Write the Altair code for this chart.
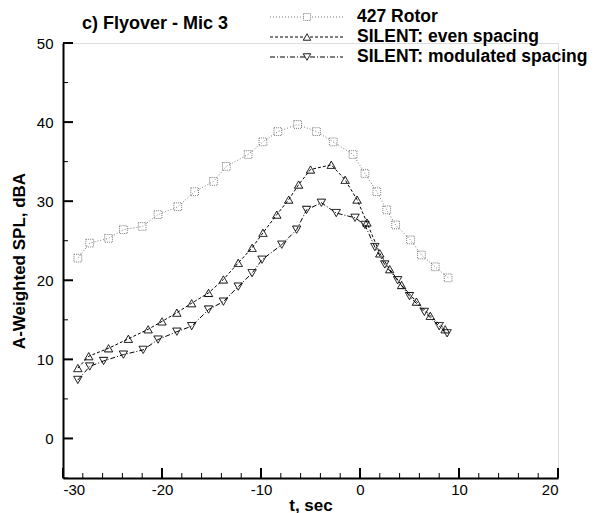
import altair as alt
import pandas as pd

# ---- data ----
rotor_t = [-28.5, -27.3, -25.4, -23.9, -22.0, -20.4, -18.4, -16.7, -14.8, -13.5, -11.3, -9.8, -8.3,
           -6.3, -4.4, -2.7, -0.7, 0.5, 1.7, 2.7, 3.6, 5.1, 6.2, 7.6, 8.9]
rotor_spl = [22.8, 24.7, 25.3, 26.4, 26.8, 28.3, 29.3, 31.2, 32.5, 34.4, 35.9, 37.5, 38.8,
             39.7, 38.8, 37.5, 35.9, 33.5, 31.2, 28.9, 27.0, 25.1, 23.2, 21.7, 20.3]

even_t = [-28.5, -27.4, -25.4, -23.4, -21.4, -20.0, -18.5, -17.0, -15.3, -13.8, -12.3, -10.9, -9.8,
          -8.4, -7.2, -6.2, -5.0, -2.9, -1.5, -0.3, 0.7, 2.0, 3.0, 4.2, 5.7, 7.1, 8.6]
even_spl = [8.9, 10.4, 11.4, 12.6, 13.8, 14.8, 15.9, 17.1, 18.4, 20.1, 22.2, 24.1, 26.0,
            28.3, 30.2, 32.1, 34.0, 34.6, 32.7, 30.2, 27.3, 23.4, 21.4, 19.4, 17.3, 15.5, 13.8]

mod_t = [-28.5, -27.3, -25.9, -23.9, -21.9, -20.4, -18.5, -17.0, -15.3, -13.8, -12.3, -10.9, -9.9,
         -7.9, -6.4, -5.4, -3.9, -2.4, -0.5, 0.5, 1.5, 2.5, 3.8, 5.0, 6.5, 8.0, 8.8]
mod_spl = [7.4, 9.1, 9.8, 10.6, 11.2, 12.5, 13.5, 14.2, 16.3, 17.3, 19.2, 20.9, 22.6,
           24.5, 26.4, 28.9, 29.8, 28.5, 27.9, 27.0, 24.2, 22.0, 20.0, 18.0, 16.0, 14.2, 13.3]

series_names = ["427 Rotor", "SILENT: even spacing", "SILENT: modulated spacing"]
chart_title = ["c) Flyover - Mic 3"]

x_labels = [-30, -20, -10, 0, 10, 20]
x_minor = [-28, -26, -24, -22, -18, -16, -14, -12, -8, -6, -4, -2, 2, 4, 6, 8, 12, 14, 16, 18]
y_labels = [0, 10, 20, 30, 40, 50]
y_minor = [-5, 5, 15, 25, 35, 45]

FONT = "Liberation Sans"
W, H = 495, 435

xs = alt.Scale(domain=[-30, 20], nice=False, zero=False)
ys = alt.Scale(domain=[-5, 50], nice=False, zero=False)
xaxis = alt.Axis(values=x_labels, ticks=False, grid=False, domainColor="black", domainWidth=2,
                 labelFont=FONT, labelFontSize=15, labelColor="black", labelPadding=4,
                 labelExpr="'' + datum.value",
                 title="t, sec", titleFont=FONT, titleFontSize=17, titleFontWeight="bold",
                 titleColor="black", titlePadding=0)
yaxis = alt.Axis(values=y_labels, ticks=False, grid=False, domainColor="black", domainWidth=2,
                 labelFont=FONT, labelFontSize=15, labelColor="black", labelPadding=10,
                 labelExpr="'' + datum.value",
                 title="A-Weighted SPL, dBA", titleFont=FONT, titleFontSize=17,
                 titleFontWeight="bold", titleColor="black", titlePadding=8)


def X(f):
    return alt.X(f"{f}:Q", scale=xs, axis=xaxis)


def Y(f):
    return alt.Y(f"{f}:Q", scale=ys, axis=yaxis)


styles = [
    dict(t=rotor_t, v=rotor_spl, color="#7a7a7a", dash=[1, 2], shape="square", pdash=[1, 1], size=60),
    dict(t=even_t, v=even_spl, color="black", dash=[3, 2], shape="triangle-up", pdash=[1, 0], size=70),
    dict(t=mod_t, v=mod_spl, color="black", dash=[5, 2, 1, 2], shape="triangle-down", pdash=[1, 0], size=70),
]

layers = []
legend_rows_y = [-26, -6, 14]
for name, st, ly in zip(series_names, styles, legend_rows_y):
    df = pd.DataFrame({"t": st["t"], "spl": st["v"], "series": name})
    layers.append(alt.Chart(df).mark_line(color=st["color"], strokeDash=st["dash"], strokeWidth=1)
                  .encode(x=X("t"), y=Y("spl")))
    layers.append(alt.Chart(df).mark_point(shape=st["shape"], filled=False, color=st["color"],
                                           strokeWidth=1, size=st["size"], strokeDash=st["pdash"], opacity=1)
                  .encode(x=X("t"), y=Y("spl")))
    ldf = pd.DataFrame({"series": [name]})
    layers.append(alt.Chart(ldf).mark_rule(color=st["color"], strokeDash=st["dash"], strokeWidth=1)
                  .encode(x=alt.value(207), x2=alt.value(280), y=alt.value(ly)))
    layers.append(alt.Chart(ldf).mark_point(shape=st["shape"], filled=False, color=st["color"],
                                            strokeWidth=1, size=st["size"] * 0.8, strokeDash=st["pdash"],
                                            opacity=1, fill="white")
                  .encode(x=alt.value(244), y=alt.value(ly)))
    layers.append(alt.Chart(ldf).mark_text(align="left", baseline="middle", font=FONT, fontSize=17.5,
                                           fontWeight="bold", color="black")
                  .encode(x=alt.value(294), y=alt.value(ly), text="series:N"))

# panel title
tdf = pd.DataFrame({"title": chart_title})
layers.append(alt.Chart(tdf).mark_text(align="left", baseline="middle", font=FONT, fontSize=18,
                                       fontWeight="bold", color="black")
              .encode(x=alt.value(19), y=alt.value(-19), text="title:N"))

# inward ticks
xmaj = pd.DataFrame({"v": x_labels})
xmin = pd.DataFrame({"v": x_minor})
ymaj = pd.DataFrame({"v": y_labels})
ymin = pd.DataFrame({"v": y_minor})
layers.append(alt.Chart(xmaj).mark_rule(color="black", strokeWidth=2)
              .encode(x=X("v"), y=alt.value(H), y2=alt.value(H - 10)))
layers.append(alt.Chart(xmin).mark_rule(color="black", strokeWidth=1)
              .encode(x=X("v"), y=alt.value(H), y2=alt.value(H - 5)))
layers.append(alt.Chart(ymaj).mark_rule(color="black", strokeWidth=2)
              .encode(y=Y("v"), x=alt.value(0), x2=alt.value(10)))
layers.append(alt.Chart(ymin).mark_rule(color="black", strokeWidth=1)
              .encode(y=Y("v"), x=alt.value(0), x2=alt.value(5)))

chart = alt.layer(*layers).properties(
    width=W, height=H,
    autosize=alt.AutoSizeParams(type="none"),
    padding={"left": 63, "top": 43, "right": 43, "bottom": 35},
).configure_view(stroke=None).configure(background="white")

chart.save("out.html", embed_options={"renderer": "svg", "actions": False})
